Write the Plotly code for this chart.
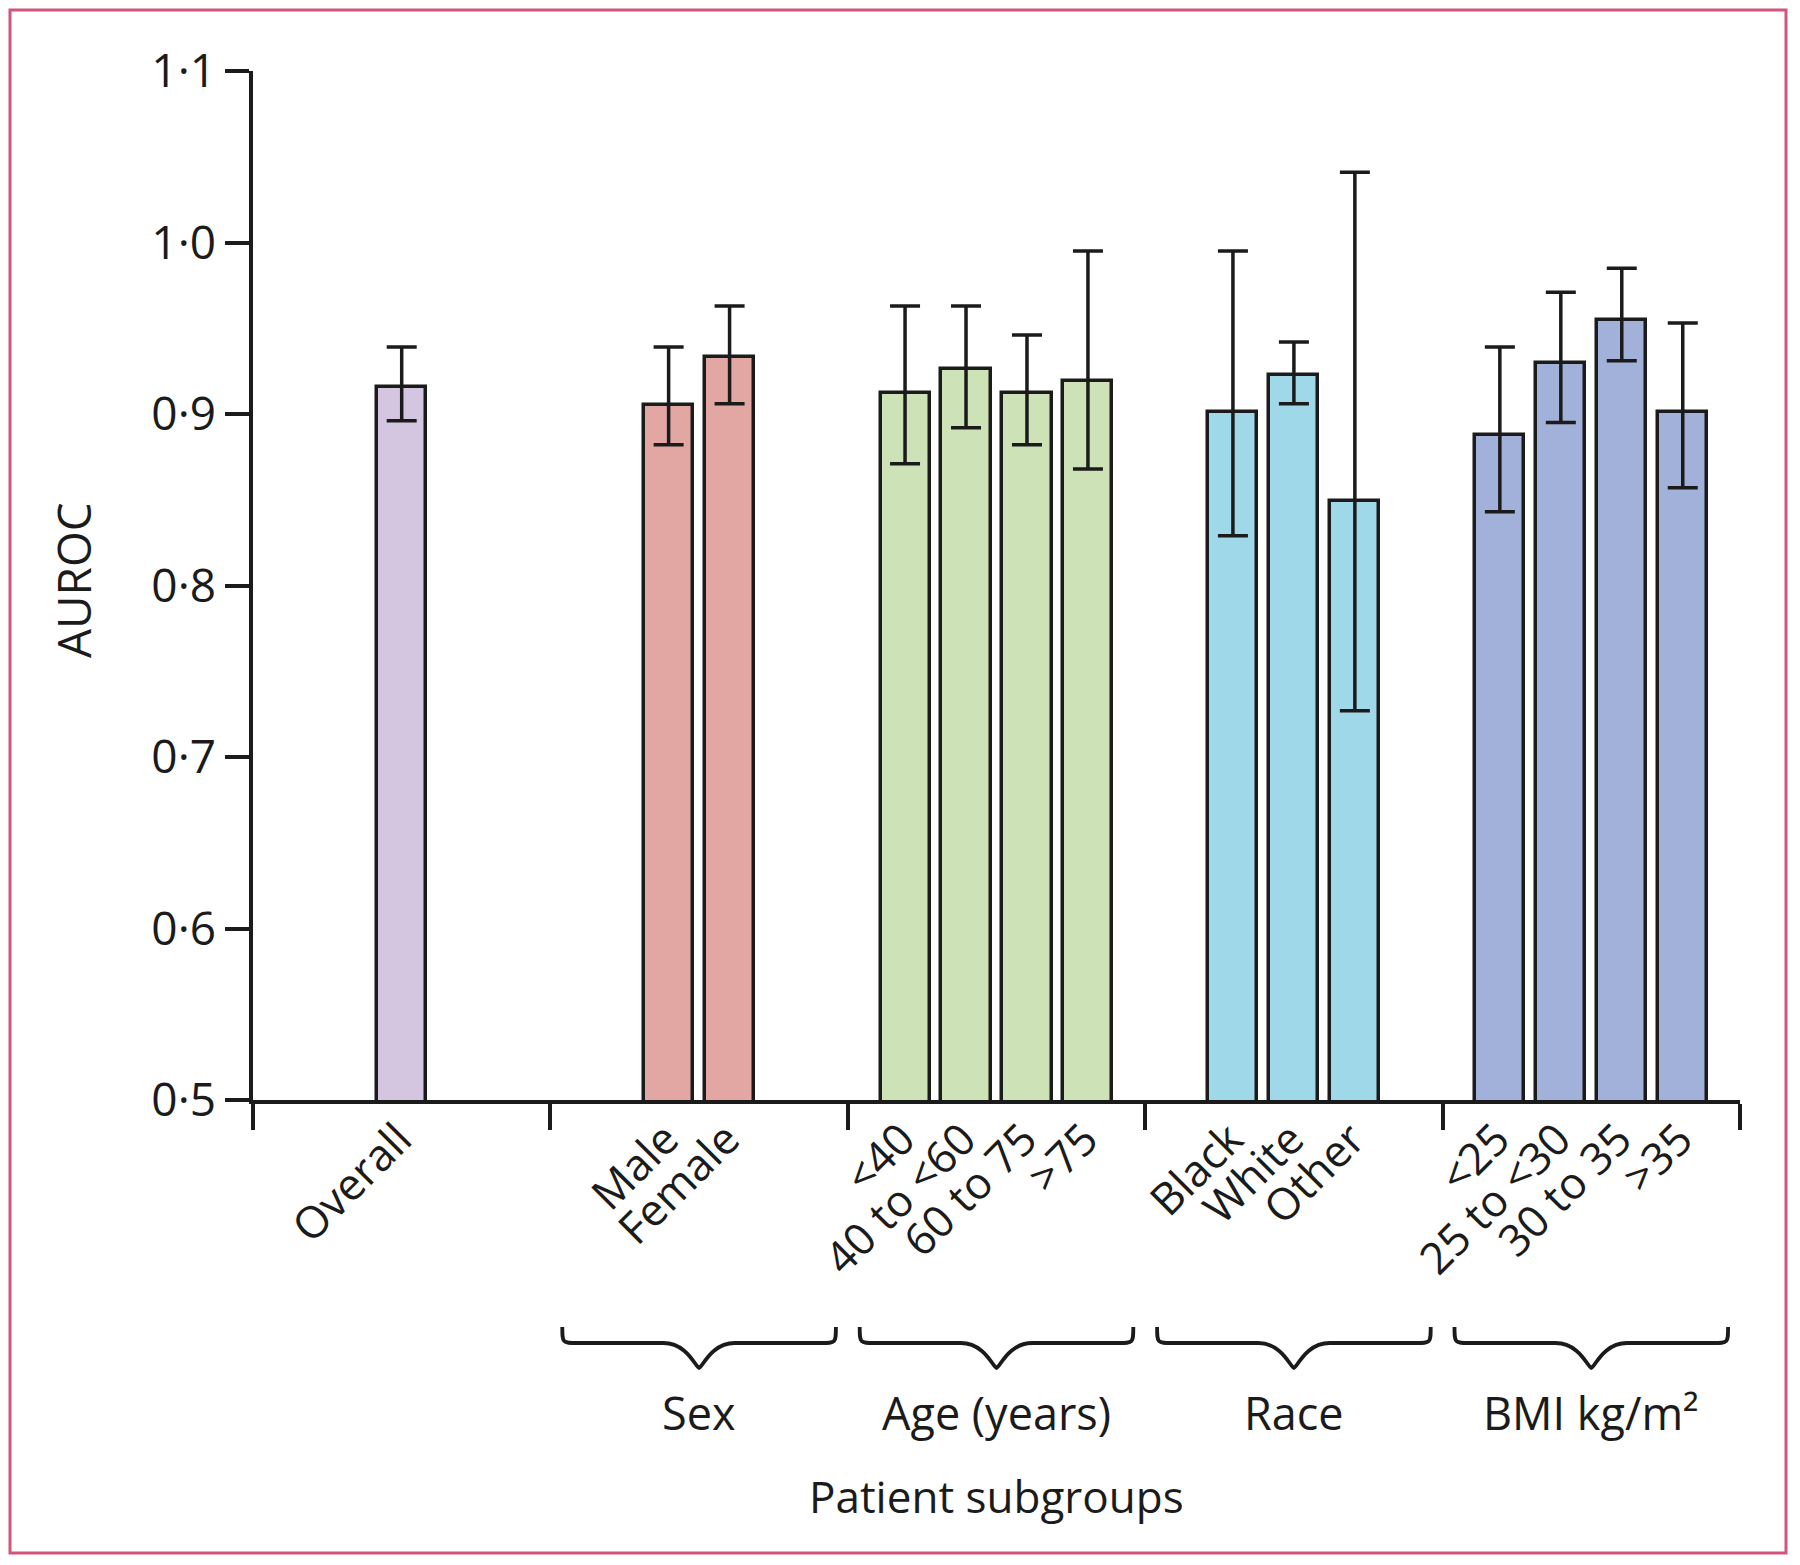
import plotly.graph_objects as go

# AUROC by patient subgroup
group_names = ["", "Sex", "Age (years)", "Race", "BMI kg/m²"]
bar_labels = [
    ["Overall"],
    ["Male", "Female"],
    ["&lt;40", "40 to &lt;60", "60 to 75", "&gt;75"],
    ["Black", "White", "Other"],
    ["&lt;25", "25 to &lt;30", "30 to 35", "&gt;35"],
]
auroc = [
    [0.916],
    [0.905, 0.933],
    [0.912, 0.926, 0.912, 0.919],
    [0.901, 0.923, 0.849],
    [0.888, 0.930, 0.955, 0.901],
]
ci_low = [
    [0.896],
    [0.882, 0.906],
    [0.871, 0.892, 0.882, 0.868],
    [0.829, 0.906, 0.727],
    [0.843, 0.895, 0.931, 0.857],
]
ci_high = [
    [0.939],
    [0.939, 0.963],
    [0.963, 0.963, 0.946, 0.995],
    [0.995, 0.942, 1.041],
    [0.939, 0.971, 0.985, 0.953],
]
colors = ["#d4c6e1", "#e3a7a3", "#cde3b7", "#9fd8e8", "#a2b1d9"]

y_ticks = [0.5, 0.6, 0.7, 0.8, 0.9, 1.0, 1.1]

FONT = "Open Sans"
INK = "#1b1b1b"

# pixel geometry (screen coords; the page body adds an 8px offset)
OFF = 8
W, H = 1800, 1565
PL, PR, PT, PB = 253 - OFF, 1740 - OFF, 71 - OFF, 1100 - OFF


def px_x(X):
    return (X - OFF - PL) / (PR - PL)


def px_y(Y):
    return (PB - (Y - OFF)) / (PB - PT)


step = 0.205
fig = go.Figure()
tickvals, ticktext = [], []
for g, labels in enumerate(bar_labels):
    n = len(labels)
    xs = [g + 0.5 + (i - (n - 1) / 2) * step for i in range(n)]
    tickvals += xs
    ticktext += labels
    fig.add_trace(go.Bar(
        x=xs,
        y=auroc[g],
        width=0.165,
        marker=dict(color=colors[g], line=dict(color=INK, width=3.5)),
        error_y=dict(
            type="data",
            symmetric=False,
            array=[h - v for h, v in zip(ci_high[g], auroc[g])],
            arrayminus=[v - l for l, v in zip(ci_low[g], auroc[g])],
            color=INK,
            thickness=3.5,
            width=15,
        ),
        showlegend=False,
        hoverinfo="skip",
    ))

# braces and group names under the tick labels
y_top, y_mid, y_tip = px_y(1327), px_y(1343), px_y(1368)
for g, name in enumerate(group_names):
    if not name:
        continue
    x0, x1, xc = g + 0.04, g + 0.96, g + 0.5
    path = (
        f"M {x0},{y_top} C {x0},{y_mid} {x0},{y_mid} {x0 + 0.05},{y_mid} "
        f"L {xc - 0.12},{y_mid} C {xc - 0.04},{y_mid} {xc - 0.01},{y_tip} {xc},{y_tip} "
        f"C {xc + 0.01},{y_tip} {xc + 0.04},{y_mid} {xc + 0.12},{y_mid} "
        f"L {x1 - 0.05},{y_mid} C {x1},{y_mid} {x1},{y_mid} {x1},{y_top}"
    )
    fig.add_shape(type="path", path=path, xref="x", yref="paper",
                  line=dict(color=INK, width=3.8))
    fig.add_annotation(x=xc, y=px_y(1412), xref="x", yref="paper",
                       text=name, showarrow=False, xanchor="center", yanchor="middle",
                       font=dict(family=FONT, size=45, color=INK))

fig.add_annotation(x=2.5, y=px_y(1496), xref="x", yref="paper",
                   text="Patient subgroups", showarrow=False,
                   xanchor="center", yanchor="middle",
                   font=dict(family=FONT, size=44, color=INK))
fig.add_annotation(x=px_x(73), y=px_y(580), xref="paper", yref="paper",
                   text="AUROC", textangle=-90, showarrow=False,
                   xanchor="center", yanchor="middle",
                   font=dict(family=FONT, size=46, color=INK))

# pink frame around the whole figure
fig.add_shape(type="rect", xref="paper", yref="paper",
              x0=px_x(10), x1=px_x(1786), y0=px_y(1553), y1=px_y(10),
              line=dict(color="#d4547a", width=3))

fig.update_layout(
    width=W, height=H,
    margin=dict(l=PL, r=W - PR, t=PT, b=H - PB),
    paper_bgcolor="white",
    plot_bgcolor="white",
    font=dict(family=FONT, color=INK),
    bargap=0,
    xaxis=dict(
        range=[0, 5],
        showline=True, linecolor=INK, linewidth=3.5,
        showgrid=False, zeroline=False,
        tickmode="array", tickvals=tickvals, ticktext=ticktext,
        tickangle=-45, ticks="", ticklabelstandoff=-8, ticklabelshift=-3,
        tickfont=dict(family=FONT, size=44, color=INK),
        minor=dict(tickmode="array", tickvals=[0, 1, 2, 3, 4, 5],
                   ticks="outside", ticklen=26, tickwidth=3.5,
                   tickcolor=INK, showgrid=False),
    ),
    yaxis=dict(
        range=[0.5, 1.1],
        showline=True, linecolor=INK, linewidth=3.5,
        showgrid=False, zeroline=False,
        tickmode="array", tickvals=y_ticks,
        ticktext=[f"{v:.1f}".replace(".", "·") for v in y_ticks],
        ticks="outside", ticklen=24, tickwidth=3.5, tickcolor=INK,
        tickfont=dict(family=FONT, size=46, color=INK),
    ),
)

fig.write_html("out.html")
